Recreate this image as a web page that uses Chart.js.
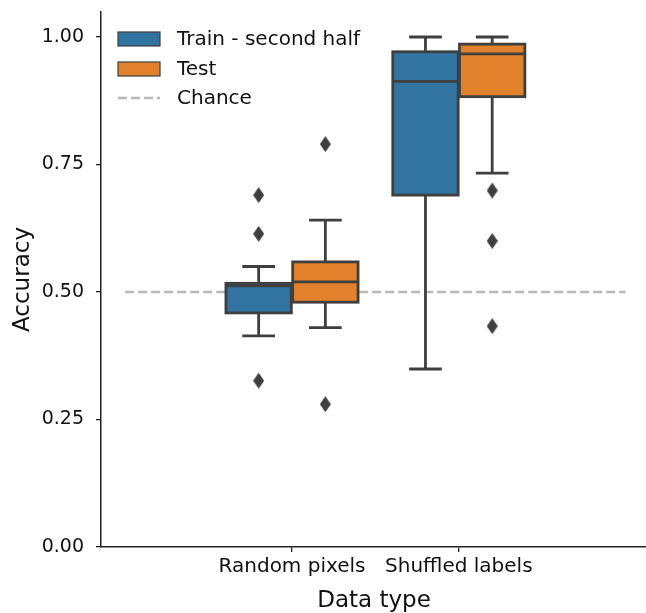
<!DOCTYPE html>
<html>
<head>
<meta charset="utf-8">
<script src="https://cdn.jsdelivr.net/npm/chart.js@4.4.1/dist/chart.umd.min.js"></script>
<style>
    html, body { margin: 0; padding: 0; background: #fff; overflow: hidden; }
    #wrap { width: 652px; height: 613px; position: relative; }
</style>
</head>
<body>
<div id="wrap"><canvas id="boxChart"></canvas></div>
<script>
// categories and tick labels
const categories = ['Random pixels', 'Shuffled labels'];
const yTicks = [0, 0.25, 0.5, 0.75, 1.0];

// Train - second half (blue)
const trainLow = [0.414, 0.349];
const trainQ1 = [0.459, 0.690];
const trainMedian = [0.512, 0.913];
const trainQ3 = [0.517, 0.971];
const trainHigh = [0.550, 1.000];
const trainOutliers = [[0.690, 0.614, 0.326], []];

// Test (orange)
const testLow = [0.430, 0.733];
const testQ1 = [0.480, 0.883];
const testMedian = [0.520, 0.967];
const testQ3 = [0.559, 0.986];
const testHigh = [0.641, 1.000];
const testOutliers = [[0.790, 0.280], [0.699, 0.600, 0.433]];

const chanceLevel = 0.5;

const trainColor = '#3274a1';
const testColor = '#e1812c';
const lineColor = '#3f3f3f';
const fontFamily = "'DejaVu Sans', sans-serif";

const series = [
    { label: 'Train - second half', color: trainColor, offset: -0.2,
      low: trainLow, q1: trainQ1, med: trainMedian, q3: trainQ3, high: trainHigh, out: trainOutliers },
    { label: 'Test', color: testColor, offset: 0.2,
      low: testLow, q1: testQ1, med: testMedian, q3: testQ3, high: testHigh, out: testOutliers }
];

// thin diamond marker for fliers
function makeDiamond() {
    const c = document.createElement('canvas');
    c.width = 11; c.height = 16;
    const g = c.getContext('2d');
    g.fillStyle = lineColor;
    g.beginPath();
    g.moveTo(5.5, 0); g.lineTo(11, 8); g.lineTo(5.5, 16); g.lineTo(0, 8);
    g.closePath();
    g.fill();
    return c;
}
const diamond = makeDiamond();

function outlierPoints(s) {
    const pts = [];
    s.out.forEach((vals, i) => vals.forEach(v => pts.push({ x: i + s.offset, y: v })));
    return pts;
}

// draws boxes, whiskers and medians through the chart scales
const boxPlugin = {
    id: 'boxes',
    afterDatasetsDraw(chart) {
        const ctx = chart.ctx;
        const xs = chart.scales.x, ys = chart.scales.y;
        const boxW = 0.4 * 0.98;
        ctx.save();
        ctx.lineWidth = 2.8;
        ctx.strokeStyle = lineColor;
        series.forEach(s => {
            categories.forEach((c, i) => {
                const xc = xs.getPixelForValue(i + s.offset);
                const xl = xs.getPixelForValue(i + s.offset - boxW / 2);
                const xr = xs.getPixelForValue(i + s.offset + boxW / 2);
                const capL = xs.getPixelForValue(i + s.offset - boxW / 4);
                const capR = xs.getPixelForValue(i + s.offset + boxW / 4);
                const yLow = ys.getPixelForValue(s.low[i]);
                const yQ1 = ys.getPixelForValue(s.q1[i]);
                const yMed = ys.getPixelForValue(s.med[i]);
                const yQ3 = ys.getPixelForValue(s.q3[i]);
                const yHigh = ys.getPixelForValue(s.high[i]);
                // whiskers
                ctx.beginPath();
                ctx.moveTo(xc, yQ1); ctx.lineTo(xc, yLow);
                ctx.moveTo(capL, yLow); ctx.lineTo(capR, yLow);
                ctx.moveTo(xc, yQ3); ctx.lineTo(xc, yHigh);
                ctx.moveTo(capL, yHigh); ctx.lineTo(capR, yHigh);
                ctx.stroke();
                // box
                ctx.fillStyle = s.color;
                ctx.fillRect(xl, yQ3, xr - xl, yQ1 - yQ3);
                ctx.strokeRect(xl, yQ3, xr - xl, yQ1 - yQ3);
                // median
                ctx.beginPath();
                ctx.moveTo(xl, yMed); ctx.lineTo(xr, yMed);
                ctx.stroke();
            });
        });
        ctx.restore();
    }
};

// legend inside the plot, top left
const legendPlugin = {
    id: 'innerLegend',
    afterDraw(chart) {
        const ctx = chart.ctx;
        const x0 = 118, patchW = 42, patchH = 14;
        const rows = [
            { y: 39, type: 'patch', color: trainColor, text: series[0].label },
            { y: 69, type: 'patch', color: testColor, text: series[1].label },
            { y: 98, type: 'line', text: 'Chance' }
        ];
        ctx.save();
        ctx.font = '20px ' + fontFamily;
        ctx.textBaseline = 'middle';
        rows.forEach(r => {
            if (r.type === 'patch') {
                ctx.fillStyle = r.color;
                ctx.fillRect(x0, r.y - patchH / 2, patchW, patchH);
                ctx.lineWidth = 1.2;
                ctx.strokeStyle = lineColor;
                ctx.strokeRect(x0, r.y - patchH / 2, patchW, patchH);
            } else {
                ctx.strokeStyle = '#b8b8b8';
                ctx.lineWidth = 2.5;
                ctx.setLineDash([9, 4]);
                ctx.beginPath();
                ctx.moveTo(x0, r.y); ctx.lineTo(x0 + patchW, r.y);
                ctx.stroke();
                ctx.setLineDash([]);
            }
            ctx.fillStyle = '#111';
            ctx.fillText(r.text, 177, r.y + 1);
        });
        ctx.restore();
    }
};

const ctx = document.getElementById('boxChart').getContext('2d');
new Chart(ctx, {
    type: 'scatter',
    data: {
        datasets: [
            {
                label: 'Chance',
                type: 'line',
                data: [{ x: -1, y: chanceLevel }, { x: 2, y: chanceLevel }],
                borderColor: '#b8b8b8',
                borderWidth: 2.5,
                borderDash: [9, 4],
                pointRadius: 0,
                fill: false
            },
            {
                label: 'Train outliers',
                data: outlierPoints(series[0]),
                pointStyle: diamond
            },
            {
                label: 'Test outliers',
                data: outlierPoints(series[1]),
                pointStyle: diamond
            }
        ]
    },
    options: {
        responsive: true,
        maintainAspectRatio: false,
        animation: false,
        layout: { padding: { left: 0, top: 12, right: 0, bottom: 0 } },
        plugins: {
            legend: { display: false },
            tooltip: { enabled: false }
        },
        scales: {
            x: {
                type: 'linear',
                min: -1.145,
                max: 2.128,
                afterBuildTicks: axis => { axis.ticks = categories.map((c, i) => ({ value: i })); },
                afterFit: axis => { axis.height = 66; },
                ticks: {
                    callback: v => categories[v],
                    color: '#111',
                    font: { family: fontFamily, size: 20 },
                    padding: 3,
                    maxRotation: 0,
                    autoSkip: false
                },
                grid: { display: true, drawOnChartArea: false, tickLength: 5, color: '#222', lineWidth: 1.3 },
                border: { display: true, color: '#222', width: 1.5 },
                title: {
                    display: true,
                    text: 'Data type',
                    color: '#111',
                    font: { family: fontFamily, size: 23 },
                    padding: { top: 0, bottom: -2 }
                }
            },
            y: {
                min: 0,
                max: 1.049,
                afterBuildTicks: axis => { axis.ticks = yTicks.map(v => ({ value: v })); },
                afterFit: axis => {
                    axis.width = 101;
                    axis.paddingTop = 0;
                    axis.paddingBottom = 0;
                },
                ticks: {
                    callback: v => v.toFixed(2),
                    color: '#111',
                    font: { family: fontFamily, size: 19 },
                    padding: 12
                },
                grid: { display: true, drawOnChartArea: false, tickLength: 5, color: '#222', lineWidth: 1.3 },
                border: { display: true, color: '#222', width: 1.5 },
                title: {
                    display: true,
                    text: 'Accuracy',
                    color: '#111',
                    font: { family: fontFamily, size: 23 },
                    padding: { top: 9, bottom: 0 }
                }
            }
        }
    },
    plugins: [boxPlugin, legendPlugin]
});
</script>
</body>
</html>
